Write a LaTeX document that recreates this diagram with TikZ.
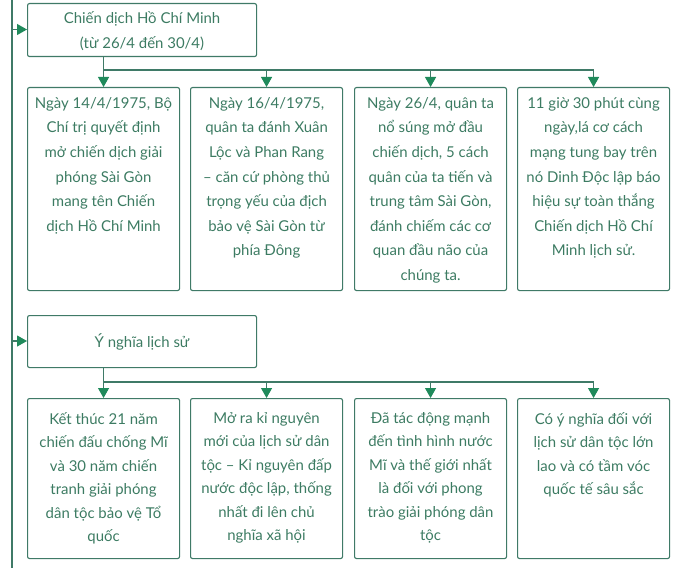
\documentclass[tikz,border=0pt]{standalone}
\usepackage{fontspec}
\setmainfont{Lato}
\usetikzlibrary{arrows.meta}
\definecolor{lineg}{HTML}{3F7A67}
\definecolor{tipg}{HTML}{1F8A5B}
\definecolor{textg}{HTML}{3C7B62}
\tikzset{
  box/.style={draw=lineg, line width=1.1bp, rounded corners=2bp},
  conn/.style={draw=lineg, line width=1.1bp},
  arr/.style={conn, -{Triangle[width=11bp,length=10bp,color=tipg]}},
  txt/.style={anchor=north, align=center, inner sep=0pt, text=textg, font=\fontsize{15}{24.7}\selectfont},
  txtb/.style={txt, font=\fontsize{15}{23.6}\selectfont},
}
\begin{document}
\begin{tikzpicture}[x=1bp,y=-1bp]
\useasboundingbox (0,0) rectangle (678,568);
% left spine
\draw[conn] (12,0) -- (12,568);
\coordinate (s1) at (12,29.5);
\coordinate (s2) at (12,341);
% title box
\node[box, minimum width=229bp, minimum height=53bp, anchor=north west] (t1) at (27,3) {};
\node[txt, anchor=center] (t1t) at ([yshift=-1bp]t1.center) {Chiến dịch Hồ Chí Minh\\(từ 26/4 đến 30/4)};
\draw[arr] (s1) -- (s1 -| t1.west);
% row 1 boxes
\foreach \n/\x in {a/27, b/190, c/354, d/517}{
  \node[box, minimum width=152bp, minimum height=203bp, anchor=north west] (\n) at (\x,87) {};
}
\node[txt] (at) at ([yshift=-10bp]a.north) {Ngày 14/4/1975, Bộ\\Chí trị quyết định\\mở chiến dịch giải\\phóng Sài Gòn\\mang tên Chiến\\dịch Hồ Chí Minh};
\node[txt] (bt) at ([yshift=-10bp]b.north) {Ngày 16/4/1975,\\quân ta đánh Xuân\\Lộc và Phan Rang\\– căn cứ phòng thủ\\trọng yếu của địch\\bảo vệ Sài Gòn từ\\phía Đông};
\node[txt] (ct) at ([yshift=-10bp]c.north) {Ngày 26/4, quân ta\\nổ súng mở đầu\\chiến dịch, 5 cách\\quân của ta tiến và\\trung tâm Sài Gòn,\\đánh chiếm các cơ\\quan đầu não của\\chúng ta.};
\node[txt] (dt) at ([yshift=-10bp]d.north) {11 giờ 30 phút cùng\\ngày,lá cơ cách\\mạng tung bay trên\\nó Dinh Độc lập báo\\hiệu sự toàn thắng\\Chiến dịch Hồ Chí\\Minh lịch sử.};
% connectors row 1
\coordinate (j1) at (a.north |- 0,70);
\draw[conn] (t1.south -| a.north) -- (j1) -- (j1 -| d.north);
\foreach \n in {a,b,c,d}{ \draw[arr] (j1 -| \n.north) -- (\n.north); }
% second title
\node[box, minimum width=229bp, minimum height=52bp, anchor=north west] (t2) at (27,315) {};
\node[txt, anchor=center] (t2t) at (t2.center) {Ý nghĩa lịch sử};
\draw[arr] (s2) -- (s2 -| t2.west);
% row 2 boxes
\foreach \n/\x in {e/27, f/190, g/354, h/517}{
  \node[box, minimum width=152bp, minimum height=160bp, anchor=north west] (\n) at (\x,398) {};
}
\node[txtb] (et) at ([yshift=-14bp]e.north) {Kết thúc 21 năm\\chiến đấu chống Mĩ\\và 30 năm chiến\\tranh giải phóng\\dân tộc bảo vệ Tổ\\quốc};
\node[txtb] (ft) at ([yshift=-14bp]f.north) {Mở ra kỉ nguyên\\mới của lịch sử dân\\tộc – Kỉ nguyên đấp\\nước độc lập, thống\\nhất đi lên chủ\\nghĩa xã hội};
\node[txtb] (gt) at ([yshift=-14bp]g.north) {Đã tác động mạnh\\đến tình hình nước\\Mĩ và thế giới nhất\\là đối với phong\\trào giải phóng dân\\tộc};
\node[txtb] (ht) at ([yshift=-14bp]h.north) {Có ý nghĩa đối với\\lịch sử dân tộc lớn\\lao và có tầm vóc\\quốc tế sâu sắc};
% connectors row 2
\coordinate (j2) at (e.north |- 0,382);
\draw[conn] (t2.south -| e.north) -- (j2) -- (j2 -| h.north);
\foreach \n in {e,f,g,h}{ \draw[arr] (j2 -| \n.north) -- (\n.north); }
\end{tikzpicture}
\end{document}
